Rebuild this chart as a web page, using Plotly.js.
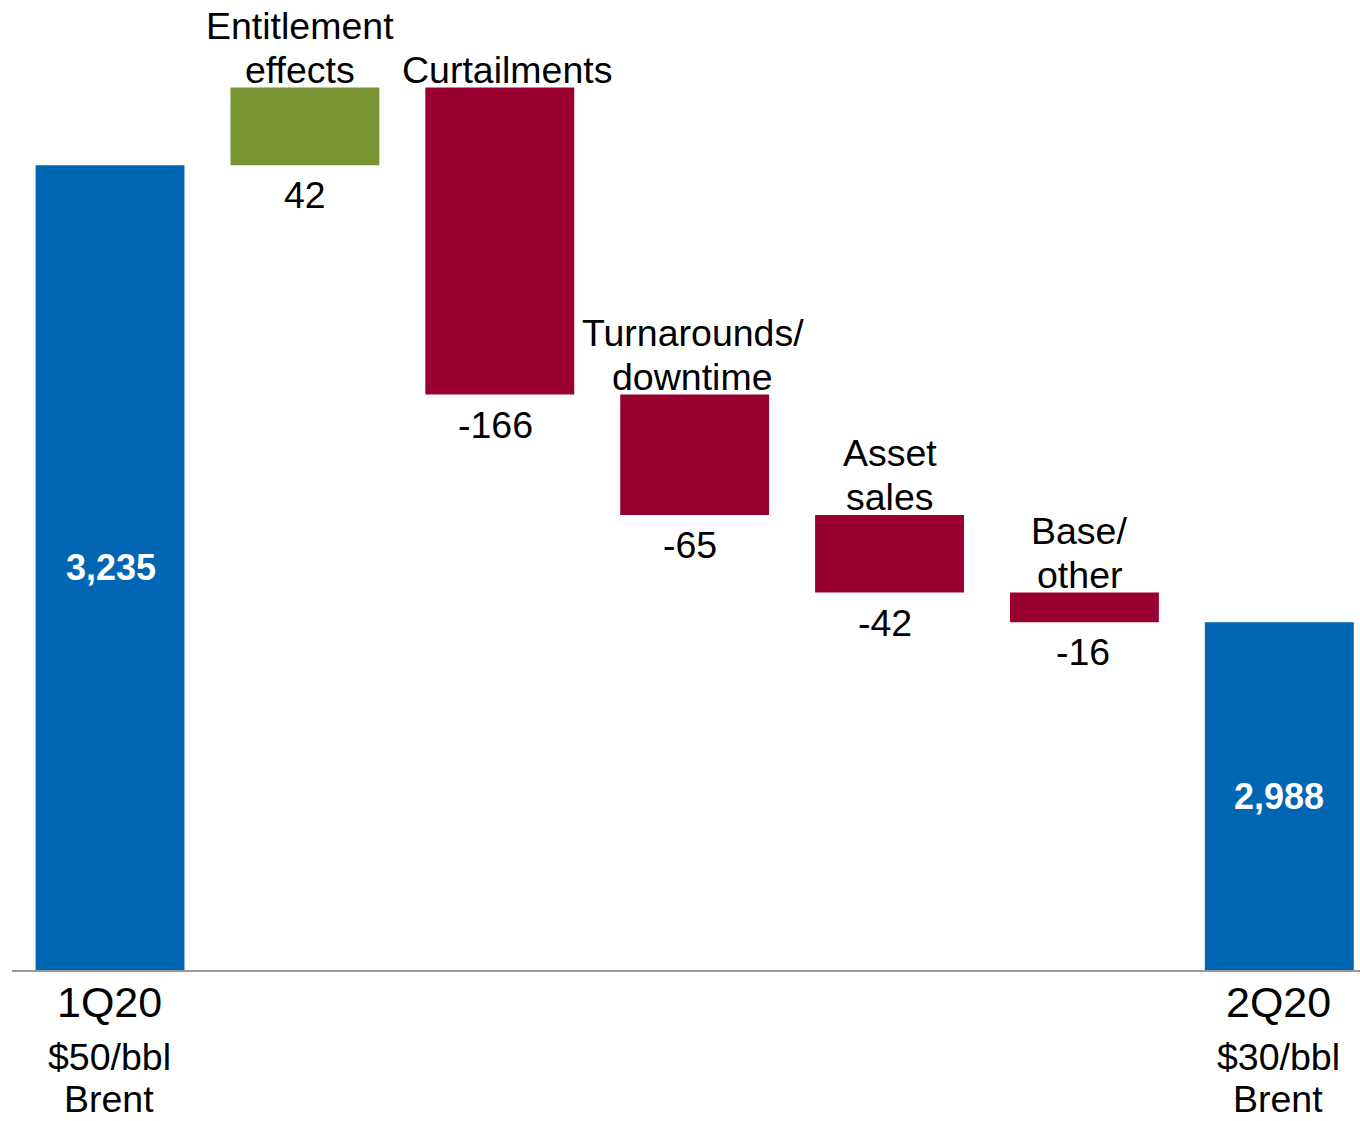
<!DOCTYPE html>
<html>
<head>
<meta charset="utf-8">
<script src="https://cdn.plot.ly/plotly-3.0.1.min.js"></script>
<style>
  html, body { margin: 0; padding: 0; background: #fff; }
  #chart { width: 1360px; height: 1121px; }
</style>
</head>
<body>
<div id="chart"></div>
<script>
// ---- Data ----
const categories = ["1Q20", "Entitlement effects", "Curtailments", "Turnarounds/ downtime", "Asset sales", "Base/ other", "2Q20"];
const stepLabelLines = [[], ["Entitlement", "effects"], ["Curtailments"], ["Turnarounds/", "downtime"], ["Asset", "sales"], ["Base/", "other"], []];
const values = [3235, 42, -166, -65, -42, -16, 2988];
const measures = ["absolute", "relative", "relative", "relative", "relative", "relative", "total"];
const valueLabels = ["3,235", "42", "-166", "-65", "-42", "-16", "2,988"];
const periodLabels = ["1Q20", "", "", "", "", "", "2Q20"];
const priceLabels = ["$50/bbl", "", "", "", "", "", "$30/bbl"];
const benchLabels = ["Brent", "", "", "", "", "", "Brent"];

// ---- Styling / placement (pixels) ----
const FONT = "Liberation Sans, Arial, Helvetica, sans-serif";
const BLUE = "#0066B3", GREEN = "#789433", RED = "#990030";
const Y_MIN = 2800, Y_MAX = 3324.3;
const labelNudgeX = [0, -5, 7.5, -2, 0, -5, 0];
const valueNudgeX = [1, 0, -4, -4.5, -5, -1.5, 0];
const LABEL_SIZE = 37.5, VALUE_SIZE = 37.5, TOTAL_SIZE = 36, PERIOD_SIZE = 43, PRICE_SIZE = 37.5;

const xs = categories.map((_, i) => i);

const trace = {
  type: "waterfall",
  x: xs,
  y: values,
  measure: measures,
  width: 0.764,
  connector: { visible: false },
  increasing: { marker: { color: GREEN } },
  decreasing: { marker: { color: RED } },
  totals: { marker: { color: BLUE } },
  textinfo: "none",
  hoverinfo: "skip"
};

const annotations = [];
let running = 0;
for (let i = 0; i < values.length; i++) {
  const m = measures[i];
  if (m === "absolute" || m === "total") {
    const v = m === "absolute" ? values[i] : running;
    if (m === "absolute") running = values[i];
    annotations.push({
      x: i, y: (Y_MIN + v) / 2, xref: "x", yref: "y",
      text: "<b>" + valueLabels[i] + "</b>", showarrow: false,
      font: { family: FONT, size: TOTAL_SIZE, color: "#fff" },
      xanchor: "center", yanchor: "middle", xshift: valueNudgeX[i]
    });
  } else {
    const start = running;
    const end = running + values[i];
    running = end;
    const top = Math.max(start, end), bot = Math.min(start, end);
    const lines = stepLabelLines[i];
    for (let k = 0; k < lines.length; k++) {
      const fromBottom = lines.length - 1 - k;
      annotations.push({
        x: i, y: top, xref: "x", yref: "y",
        text: lines[k], showarrow: false,
        font: { family: FONT, size: LABEL_SIZE, color: "#000" },
        xanchor: "center", yanchor: "middle",
        yshift: 18 + 43.5 * fromBottom, xshift: labelNudgeX[i]
      });
    }
    annotations.push({
      x: i, y: bot, xref: "x", yref: "y",
      text: valueLabels[i], showarrow: false,
      font: { family: FONT, size: VALUE_SIZE, color: "#000" },
      xanchor: "center", yanchor: "middle", yshift: -30,
      xshift: valueNudgeX[i]
    });
  }
}
// bottom category labels
for (let i = 0; i < categories.length; i++) {
  if (!periodLabels[i]) continue;
  annotations.push({
    x: i, y: (970 - 1002) / 970, xref: "x", yref: "paper",
    text: periodLabels[i], showarrow: false,
    font: { family: FONT, size: PERIOD_SIZE, color: "#000" },
    xanchor: "center", yanchor: "middle", xshift: -1
  });
  annotations.push({
    x: i, y: (970 - 1057) / 970, xref: "x", yref: "paper",
    text: priceLabels[i], showarrow: false,
    font: { family: FONT, size: PRICE_SIZE, color: "#000" },
    xanchor: "center", yanchor: "middle", xshift: -1
  });
  annotations.push({
    x: i, y: (970 - 1099) / 970, xref: "x", yref: "paper",
    text: benchLabels[i], showarrow: false,
    font: { family: FONT, size: PRICE_SIZE, color: "#000" },
    xanchor: "center", yanchor: "middle", xshift: -1, borderpad: 0
  });
}

const layout = {
  width: 1360, height: 1121,
  margin: { l: 12, r: 0, t: 0, b: 151, pad: 0 },
  paper_bgcolor: "#fff", plot_bgcolor: "#fff",
  showlegend: false,
  xaxis: {
    range: [-0.503, 6.414], showgrid: false, zeroline: false,
    showticklabels: false, ticks: "", showline: true,
    linecolor: "#999999", linewidth: 2, fixedrange: true
  },
  yaxis: {
    range: [Y_MIN, Y_MAX], visible: false, showgrid: false,
    zeroline: false, fixedrange: true
  },
  annotations: annotations
};

Plotly.newPlot("chart", [trace], layout, { displayModeBar: false, staticPlot: true });
</script>
</body>
</html>
